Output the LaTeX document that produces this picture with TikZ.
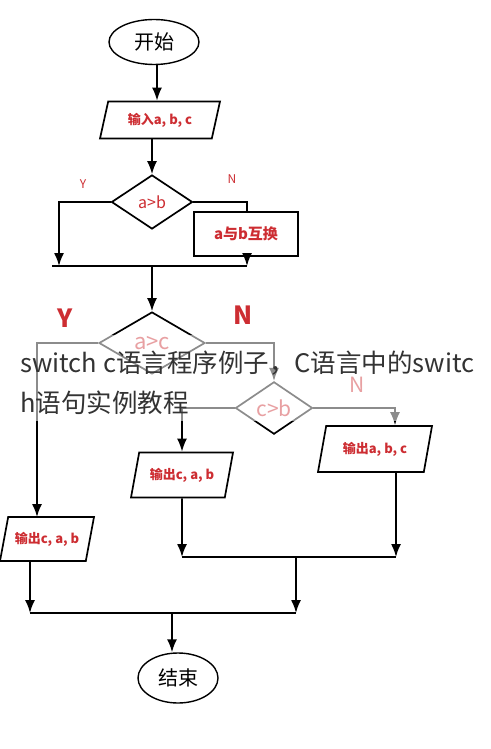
\documentclass[tikz,border=0pt]{standalone}
\usepackage{fontspec}
\setmainfont{Noto Sans CJK SC}
\usepackage{xcolor}
\usetikzlibrary{shapes.geometric}
\usetikzlibrary{arrows.meta}
\usetikzlibrary{calc}
\definecolor{labred}{RGB}{205,45,50}

\tikzset{
    line/.style={line width=1.7pt,black},
    arr/.style={line,-{Latex[length=13pt,width=10pt]}},
    term/.style={ellipse,draw,line width=1.4pt,inner sep=0pt,font=\fontsize{20}{20}\selectfont},
    iobox/.style={trapezium,trapezium left angle=60,trapezium right angle=120,trapezium stretches body,
        draw,line width=1.7pt,inner sep=0pt,text=labred,font=\bfseries\fontsize{13}{13}\selectfont},
    test/.style={diamond,draw,line width=1.7pt,inner sep=0pt,text=labred,font=\fontsize{16}{16}\selectfont},
    work/.style={rectangle,draw,line width=1.7pt,inner sep=0pt,text=labred,font=\bfseries\fontsize{15}{15}\selectfont},
    yn/.style={text=labred,font=\fontsize{12}{12}\selectfont},
    bigyn/.style={text=labred,font=\bfseries\fontsize{25}{25}\selectfont},
    caption/.style={anchor=base west,text=black!80,font=\fontsize{25.5}{25.5}\selectfont,inner sep=0pt},
}

\begin{document}
\begin{tikzpicture}[x=1pt,y=-1pt]
        \useasboundingbox (0,0) rectangle (490,749);
        \fill[white] (0,0) rectangle (490,749);
        % nodes
        \node[term,minimum width=90pt,minimum height=45pt] (start) at (154,42) {开始};
        \node[iobox,minimum width=120pt,minimum height=37pt] (in) at (160,120) {输入a, b, c};
        \node[test,minimum width=81pt,minimum height=54pt] (ab) at (152,202) {a>b};
        \node[work,minimum width=104pt,minimum height=44pt] (swap) at (246,234) {a与b互换};
        \node[test,minimum width=106pt,minimum height=62pt,font=\fontsize{22}{22}\selectfont] (ac) at (152,343) {a>c};
        \node[test,minimum width=77pt,minimum height=49pt,font=\fontsize{21}{21}\selectfont] (cb) at (274,408) {c>b};
        \node[iobox,minimum width=94pt,minimum height=44pt] (outl) at (47,539) {输出c, a, b};
        \node[iobox,minimum width=102pt,minimum height=45pt] (outm) at (182,475) {输出c, a, b};
        \node[iobox,minimum width=114pt,minimum height=46pt] (outr) at (375,449) {输出a, b, c};
        \node[term,minimum width=80pt,minimum height=50pt] (end) at (178,678) {结束};
        % labels
        \node[yn] (y1) at (83,184) {Y};
        \node[yn] (n1) at (232,179) {N};
        \node[bigyn] (y2) at (65,318) {Y};
        \node[bigyn] (n2) at (243,315) {N};
        \node[yn,font=\fontsize{21}{21}\selectfont] (n3) at (357,385) {N};
        % join points
        \coordinate (m1a) at (52,266);
        \coordinate (m1y) at (59,266);
        \coordinate (m1b) at (247,266);
        \coordinate (yl) at (37,517);
        \coordinate (m2a) at (182,557);
        \coordinate (m2b) at (396,557);
        \coordinate (m2c) at (296,557);
        \coordinate (m3a) at (30,613);
        \coordinate (m3b) at (296,613);
        \coordinate (m3c) at (172,613);
        % connectors
        \draw[arr] (start.south -| 157,0) -- (157,0 |- in.north);
        \draw[arr] (ab |- in.south) -- (ab.north);
        \draw[arr] (ab.west) -| (m1y);
        \draw[line] (ab.east) -| (swap.north -| m1b);
        \draw[arr] (swap.south -| m1b) -- (m1b);
        \draw[line] (m1a) -- (m1b);
        \draw[arr] (ac |- m1b) -- (ac.north);
        \draw[arr] (ac.west) -| (yl);
        \draw[arr] (ac.east) -| (cb.north);
        \draw[arr] (cb.west) -| (outm.north);
        \draw[arr] (cb.east) -| ([xshift=20pt]outr.north);
        \draw[arr] (outm.south) -- (m2a);
        \draw[arr] ([xshift=21pt]outr.south) -- (m2b);
        \draw[line] (m2a) -- (m2b);
        \draw[arr] (m2c) -- (m3b);
        \draw[arr] (m3a |- outl.south) -- (m3a);
        \draw[line] (m3a) -- (m3b);
        \draw[arr] (m3c) -- (m3c |- end.north);
        % caption band over the picture
        \fill[white,opacity=0.55] (0,335) rectangle (490,421);
        \node[caption] (cap1) at (20,372) {switch c语言程序例子，C语言中的switc};
        \node[caption] (cap2) at (20,412) {h语句实例教程};
    \end{tikzpicture}
\end{document}
